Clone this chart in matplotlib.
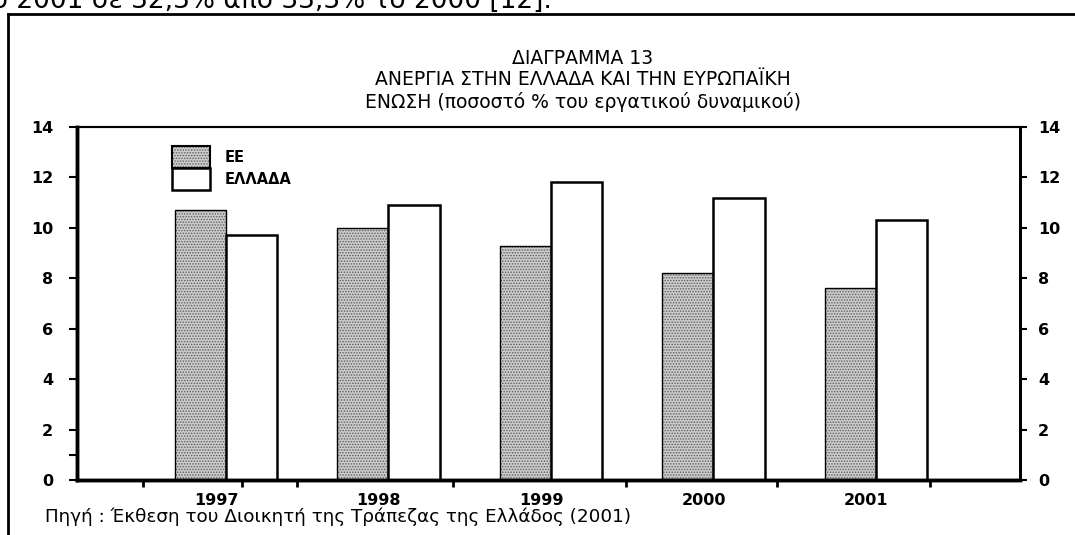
import matplotlib.pyplot as plt
from matplotlib.patches import Patch
from matplotlib.lines import Line2D
from matplotlib.legend_handler import HandlerTuple
import numpy as np

# data (% of labour force)
years = ['1997', '1998', '1999', '2000', '2001']
ee = [10.7, 10.0, 9.3, 8.2, 7.6]
greece = [9.7, 10.9, 11.8, 11.2, 10.3]
series_names = ['ΕΕ', 'ΕΛΛΑΔΑ']

title = ('ΔΙΑΓΡΑΜΜΑ 13\nΑΝΕΡΓΙΑ ΣΤΗΝ ΕΛΛΑΔΑ ΚΑΙ ΤΗΝ ΕΥΡΩΠΑΪΚΗ\n'
         'ΕΝΩΣΗ (ποσοστό % του εργατικού δυναμικού)')
source = 'Πηγή : Έκθεση του Διοικητή της Τράπεζας της Ελλάδος (2001)'
top_line = 'το 2001 σε 32,3% από 33,3% το 2000 [12].'

plt.rcParams['font.family'] = ['DejaVu Sans']
plt.rcParams['hatch.linewidth'] = 0.7

fig = plt.figure(figsize=(10.75, 5.35), dpi=100)
ax = fig.add_axes([0.0716, 0.1028, 0.8772, 0.6598])

x = np.arange(len(years))
w = 0.314
face = '#cbcbcb'
dots = '#5e5e5e'

# EE bars: grey stipple, then a thin outline on top
ax.bar(x - w / 2, ee, w, color=face, hatch='......', edgecolor=dots,
       linewidth=0)
ax.bar(x - w / 2, ee, w, fill=False, edgecolor='black', linewidth=1.0)
ax.bar(x + w / 2, greece, w, color='white', edgecolor='black', linewidth=1.8)

ax.set_xlim(-0.917, 4.886)
ax.set_ylim(0, 14)
ax.set_yticks(range(0, 15, 2))
ax.set_yticks([1], minor=True)
ax.tick_params(axis='y', which='both', direction='out', length=6, width=1.5,
               pad=11, labelsize=11.5)
for lab in ax.get_yticklabels():
    lab.set_fontweight('bold')

ax.set_xticks(x - 0.06)
ax.set_xticklabels(years, fontsize=11.5, fontweight='bold')
ax.tick_params(axis='x', which='major', length=0, pad=9)
ax.set_xticks([-0.51, 0.1, 0.44, 1.40, 2.46, 3.39, 4.33], minor=True)
ax.tick_params(axis='x', which='minor', direction='out', length=5, width=2)

ax2 = ax.twinx()
ax2.set_ylim(0, 14)
ax2.set_yticks(range(0, 15, 2))
ax2.tick_params(axis='y', direction='out', length=5, width=1.5, pad=8,
                labelsize=11.5)
for lab in ax2.get_yticklabels():
    lab.set_fontweight('bold')

for a in (ax, ax2):
    a.spines['left'].set_linewidth(2.5)
    a.spines['bottom'].set_linewidth(2.5)
    a.spines['top'].set_linewidth(1.5)
    a.spines['right'].set_linewidth(2.0)

ee_handle = (Patch(facecolor=face, hatch='......', edgecolor=dots, linewidth=0),
             Patch(fill=False, edgecolor='black', linewidth=1.5))
gr_handle = Patch(facecolor='white', edgecolor='black', linewidth=1.8)
leg = ax.legend([ee_handle, gr_handle], series_names, loc='upper left',
                bbox_to_anchor=(0.1007, 0.946), frameon=False, borderpad=0,
                borderaxespad=0, labelspacing=0, handlelength=2.6,
                handleheight=1.95, handletextpad=1.0,
                handler_map={tuple: HandlerTuple(ndivide=1)},
                prop={'weight': 'bold', 'size': 10.5})

fig.text(0.542, 0.850, title, ha='center', va='center', fontsize=13.5,
         linespacing=1.15)
fig.text(0.042, 0.034, source, ha='left', va='center', fontsize=13.2)
fig.text(-0.022, 0.985, top_line, ha='left', va='baseline', fontsize=19)

# page frame around the figure
fig.add_artist(Line2D([8 / 1075, 1.0], [1 - 14 / 535, 1 - 14 / 535],
                      transform=fig.transFigure, color='black', linewidth=2))
fig.add_artist(Line2D([8 / 1075, 8 / 1075], [0, 1 - 14 / 535],
                      transform=fig.transFigure, color='black', linewidth=2))

fig.savefig('out.png', dpi=100)
